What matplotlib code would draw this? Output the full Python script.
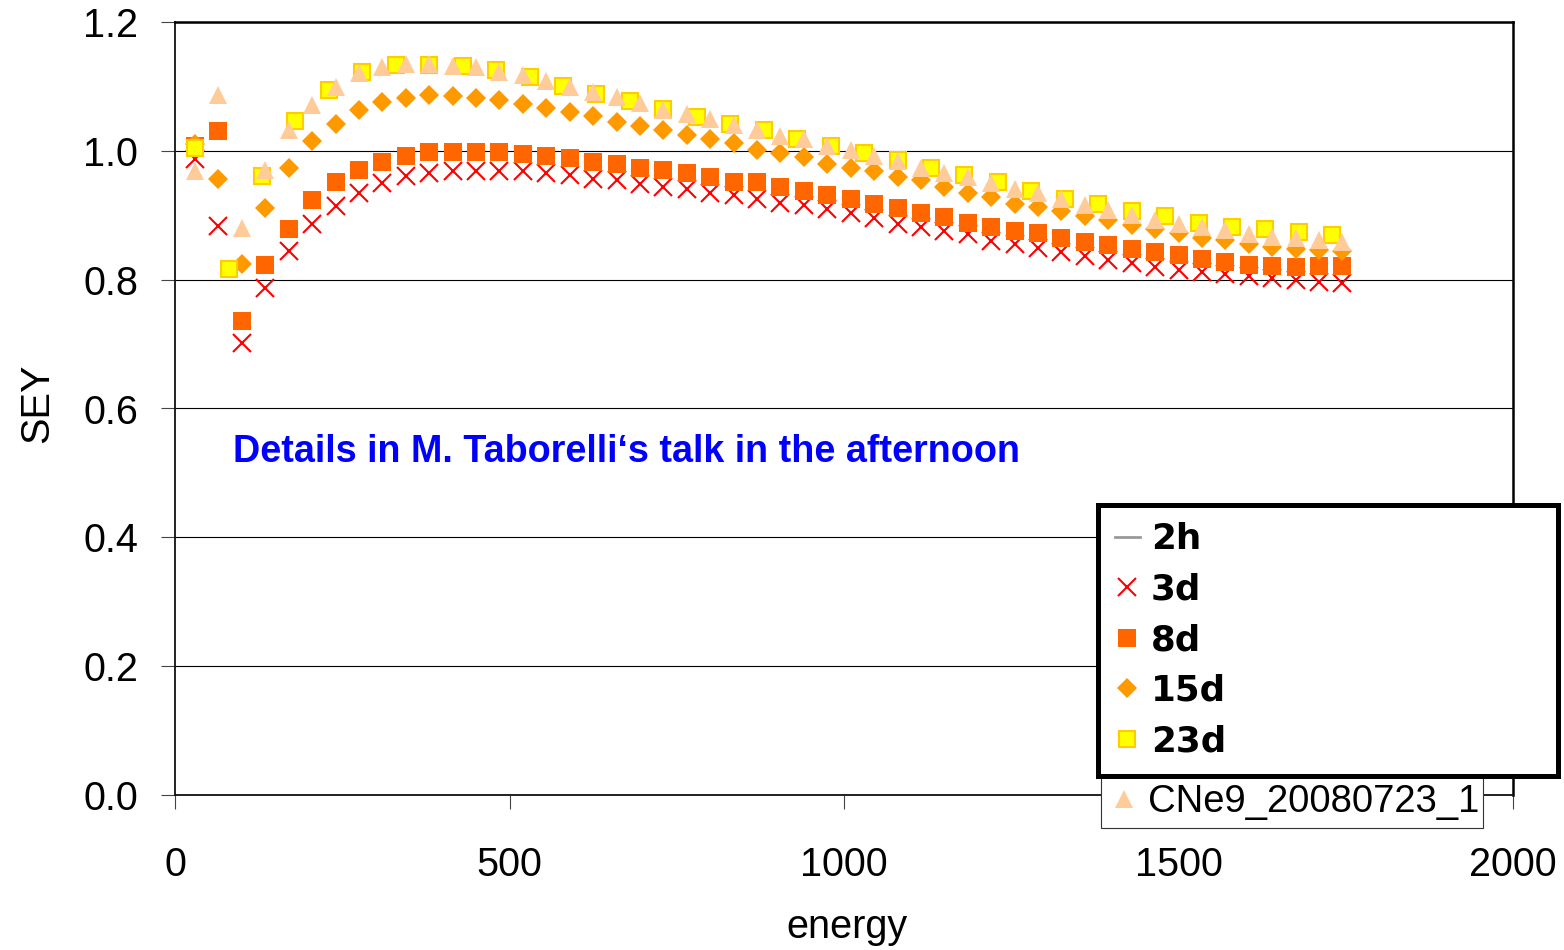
import matplotlib
matplotlib.use('Agg')
import matplotlib.pyplot as plt
from matplotlib.lines import Line2D
from matplotlib import font_manager

# ---------------- data ----------------
energy_35 = [30, 65, 100, 135, 170, 205, 240, 275, 310, 345, 380, 415, 450, 485, 520,
             555, 590, 625, 660, 695, 730, 765, 800, 835, 870, 905, 940, 975, 1010, 1045,
             1080, 1115, 1150, 1185, 1220, 1255, 1290, 1325, 1360, 1395, 1430, 1465, 1500,
             1535, 1570, 1605, 1640, 1675, 1710, 1745]
energy_50 = [30, 80, 130, 180, 230, 280, 330, 380, 430, 480, 530, 580, 630, 680, 730,
             780, 830, 880, 930, 980, 1030, 1080, 1130, 1180, 1230, 1280, 1330, 1380, 1430,
             1480, 1530, 1580, 1630, 1680, 1730]

sey_3d = [0.988, 0.884, 0.701, 0.787, 0.844, 0.887, 0.914, 0.935, 0.950, 0.961, 0.966, 0.969,
          0.969, 0.969, 0.969, 0.966, 0.962, 0.957, 0.954, 0.949, 0.944, 0.940, 0.935, 0.931,
          0.925, 0.919, 0.916, 0.909, 0.904, 0.895, 0.887, 0.881, 0.876, 0.871, 0.860, 0.855,
          0.849, 0.843, 0.837, 0.830, 0.826, 0.820, 0.815, 0.812, 0.809, 0.805, 0.802, 0.800,
          0.797, 0.795]
sey_8d = [1.007, 1.031, 0.736, 0.822, 0.879, 0.923, 0.951, 0.971, 0.983, 0.992, 0.998, 0.998,
          0.998, 0.998, 0.995, 0.992, 0.989, 0.983, 0.980, 0.974, 0.970, 0.965, 0.959, 0.952,
          0.951, 0.944, 0.938, 0.931, 0.926, 0.917, 0.911, 0.904, 0.898, 0.888, 0.882, 0.876,
          0.872, 0.865, 0.859, 0.854, 0.847, 0.843, 0.838, 0.832, 0.828, 0.823, 0.821, 0.819,
          0.821, 0.821]
sey_15d = [1.010, 0.957, 0.824, 0.912, 0.973, 1.016, 1.042, 1.063, 1.076, 1.082, 1.086, 1.085,
           1.082, 1.079, 1.073, 1.067, 1.060, 1.054, 1.045, 1.038, 1.033, 1.025, 1.018, 1.012,
           1.002, 0.996, 0.990, 0.980, 0.974, 0.968, 0.960, 0.954, 0.944, 0.934, 0.929, 0.918,
           0.913, 0.906, 0.899, 0.893, 0.885, 0.878, 0.872, 0.865, 0.862, 0.855, 0.851, 0.847,
           0.846, 0.844]
sey_23d = [1.005, 0.816, 0.961, 1.046, 1.095, 1.123, 1.134, 1.134, 1.132, 1.126, 1.114, 1.101,
           1.089, 1.077, 1.065, 1.053, 1.041, 1.032, 1.019, 1.007, 0.996, 0.986, 0.974, 0.962,
           0.951, 0.938, 0.925, 0.917, 0.907, 0.899, 0.888, 0.882, 0.879, 0.874, 0.869]
sey_cne9 = [0.969, 1.087, 0.880, 0.971, 1.032, 1.071, 1.099, 1.121, 1.130, 1.135, 1.135, 1.131,
            1.130, 1.123, 1.118, 1.109, 1.099, 1.092, 1.084, 1.074, 1.063, 1.057, 1.050, 1.040,
            1.032, 1.023, 1.018, 1.007, 1.001, 0.992, 0.984, 0.974, 0.966, 0.960, 0.950, 0.940,
            0.935, 0.926, 0.916, 0.908, 0.900, 0.893, 0.886, 0.881, 0.877, 0.871, 0.867, 0.864,
            0.862, 0.859]

series_labels = ['2h', '3d', '8d', '15d', '23d', 'CNe9_20080723_1']
x_ticks = [0, 500, 1000, 1500, 2000]
y_ticks = [0.0, 0.2, 0.4, 0.6, 0.8, 1.0, 1.2]
y_tick_labels = ['0.0', '0.2', '0.4', '0.6', '0.8', '1.0', '1.2']
note = 'Details in M. Taborelli\u2018s talk in the afternoon'

# ---------------- figure ----------------
W, H = 1564, 950
fig = plt.figure(figsize=(W / 100, H / 100), dpi=100)
ax = fig.add_axes([175 / W, 1 - 795 / H, 1338 / W, 773 / H])

names = {f.name for f in font_manager.fontManager.ttflist}
sans = 'Liberation Sans' if 'Liberation Sans' in names else 'DejaVu Sans'
narrow = 'Liberation Sans Narrow' if 'Liberation Sans Narrow' in names else sans

h3d, = ax.plot(energy_35, sey_3d, ls='none', marker='x', ms=12.5, mew=1.5,
               color='#FF0000', zorder=3)
h8d, = ax.plot(energy_35, sey_8d, ls='none', marker='s', ms=12.5, mew=0,
               color='#FF6600', zorder=3)
h15d, = ax.plot(energy_35, sey_15d, ls='none', marker='D', ms=10.5, mew=0,
                color='#FF9900', zorder=3)
h23d, = ax.plot(energy_50, sey_23d, ls='none', marker='s', ms=11.8, mew=1.5,
                mfc='#FFFF00', mec='#FFCC00', zorder=3)
hC, = ax.plot(energy_35, sey_cne9, ls='none', marker='^', ms=12.5, mew=0,
              color='#FFCC99', zorder=3)
h2h = Line2D([], [], color='#999999', lw=2)

ax.set_xlim(0, 2000)
ax.set_ylim(0, 1.2)
ax.set_xticks(x_ticks)
ax.set_xticklabels([str(v) for v in x_ticks])
ax.set_yticks(y_ticks)
ax.set_yticklabels(y_tick_labels)
ax.yaxis.grid(True, color='black', lw=0.8)
ax.set_axisbelow(True)
for side in ['left', 'bottom']:
    ax.spines[side].set_linewidth(1.3)
    ax.spines[side].set_color('#111111')
for side in ['top', 'right']:
    ax.spines[side].set_linewidth(1.8)
    ax.spines[side].set_color('black')

ax.tick_params(axis='both', direction='out', length=10, width=0.8, color='#444444',
               labelsize=28.5)
ax.tick_params(axis='y', pad=16.5)
ax.tick_params(axis='x', pad=27)
for lab in ax.get_xticklabels() + ax.get_yticklabels():
    lab.set_family(sans)

ax.set_xlabel('energy', family=sans, fontsize=28.5, va='baseline', ha='center')
ax.xaxis.set_label_coords((847.5 - 175) / 1338, (795 - 937.7) / 773)
ax.set_ylabel('SEY', family=sans, fontsize=28.5, va='baseline', ha='center')
ax.yaxis.set_label_coords((48 - 175) / 1338, (795 - 403) / 773)

# underlying (thin) legend with all series; only its last row shows
leg1 = ax.legend(handles=[h2h, h3d, h8d, h15d, h23d, hC], labels=series_labels,
                 loc='lower left',
                 bbox_to_anchor=(1101 / W, (H - 828) / H, 382 / W, 0.1),
                 bbox_transform=fig.transFigure, mode='expand', borderaxespad=0,
                 prop={'family': sans, 'size': 27.5}, fancybox=False,
                 edgecolor='#333333', framealpha=1, handlelength=0.8,
                 handletextpad=0.21, borderpad=0.21, labelspacing=0.18)
leg1.get_frame().set_linewidth(0.8)
for t in leg1.get_texts()[:5]:
    t.set_visible(False)
for hl in leg1.legend_handles[:5]:
    hl.set_visible(False)
leg1.set_zorder(5)
ax.add_artist(leg1)

# overlaid bold legend with thick frame
leg2 = ax.legend(handles=[h2h, h3d, h8d, h15d, h23d], labels=series_labels[:5],
                 loc='lower left',
                 bbox_to_anchor=(1097.5 / W, (H - 775.5) / H, 460 / W, 0.1),
                 bbox_transform=fig.transFigure, mode='expand', borderaxespad=0,
                 prop={'family': 'DejaVu Sans', 'weight': 'bold', 'size': 25.7},
                 fancybox=False, edgecolor='black', framealpha=1, handlelength=0.7,
                 handletextpad=0.3, borderpad=0.49, labelspacing=0.46)
leg2.get_frame().set_linewidth(3.6)
leg2.set_zorder(6)

# annotation
txt = fig.text(233 / W, (H - 462) / H, note, color='#0000FF', fontweight='bold',
               family=narrow, fontsize=26, ha='left', va='baseline')
fig.canvas.draw()
w = txt.get_window_extent(fig.canvas.get_renderer()).width
if w > 0:
    txt.set_fontsize(26 * 788.0 / w)

fig.savefig('out.png', dpi=100)
